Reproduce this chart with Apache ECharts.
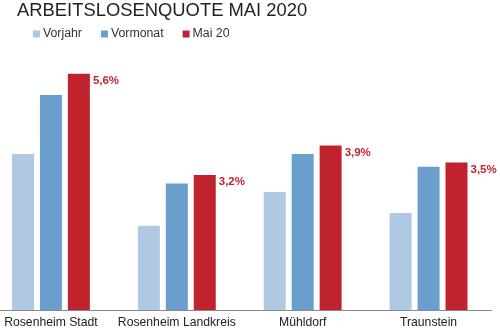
<!DOCTYPE html>
<html>
<head>
<meta charset="utf-8">
<script src="https://cdn.jsdelivr.net/npm/echarts@6/dist/echarts.min.js"></script>
<style>html,body{margin:0;padding:0;background:#fff;}#c{width:500px;height:332px;}</style>
</head>
<body>
<div id="c"></div>
<script>
const categories = ['Rosenheim Stadt', 'Rosenheim Landkreis', 'Mühldorf', 'Traunstein'];
const vorjahr = [3.7, 2.0, 2.8, 2.3];
const vormonat = [5.1, 3.0, 3.7, 3.4];
const mai20 = [5.6, 3.2, 3.9, 3.5];
const seriesNames = ['Vorjahr', 'Vormonat', 'Mai 20'];

const chart = echarts.init(document.getElementById('c'), null, {renderer: 'canvas'});
const font = 'Liberation Sans, Arial, sans-serif';
chart.setOption({
  animation: false,
  backgroundColor: '#fff',
  title: {
    text: 'ARBEITSLOSENQUOTE MAI 2020',
    left: 17, top: 2, padding: 0,
    textStyle: {fontFamily: font, fontSize: 18.4, fontWeight: 'normal', color: '#231f20'}
  },
  legend: {
    left: 33, top: 28, padding: 0,
    itemWidth: 7, itemHeight: 7, itemGap: 19,
    icon: 'rect',
    textStyle: {fontFamily: font, fontSize: 12.3, color: '#333', padding: [0, 0, 0, -2]},
    data: seriesNames
  },
  grid: {left: -12, right: 8.5, top: 57, bottom: 22, containLabel: false, outerBoundsMode: 'none'},
  xAxis: {
    type: 'category',
    data: categories,
    axisLine: {lineStyle: {color: '#8a8a8a', width: 1}},
    axisTick: {show: false},
    axisLabel: {fontFamily: font, fontSize: 12.2, color: '#222', margin: 7, interval: 0}
  },
  yAxis: {
    type: 'value', min: 0, max: 6, show: false,
    splitLine: {show: false}
  },
  series: [
    {name: seriesNames[0], type: 'bar', data: vorjahr, barWidth: 22, barGap: '27%',
     itemStyle: {color: '#afc9e3'}},
    {name: seriesNames[1], type: 'bar', data: vormonat, barWidth: 22, barGap: '27%',
     itemStyle: {color: '#6a9fcd'}},
    {name: seriesNames[2], type: 'bar', data: mai20, barWidth: 22, barGap: '27%',
     itemStyle: {color: '#c1232e'},
     label: {show: true, position: [25, 1], fontFamily: font, fontSize: 11.5, fontWeight: 'bold', color: '#c1232e',
       formatter: p => p.value.toFixed(1).replace('.', ',') + '%'}}
  ]
});
</script>
</body>
</html>
